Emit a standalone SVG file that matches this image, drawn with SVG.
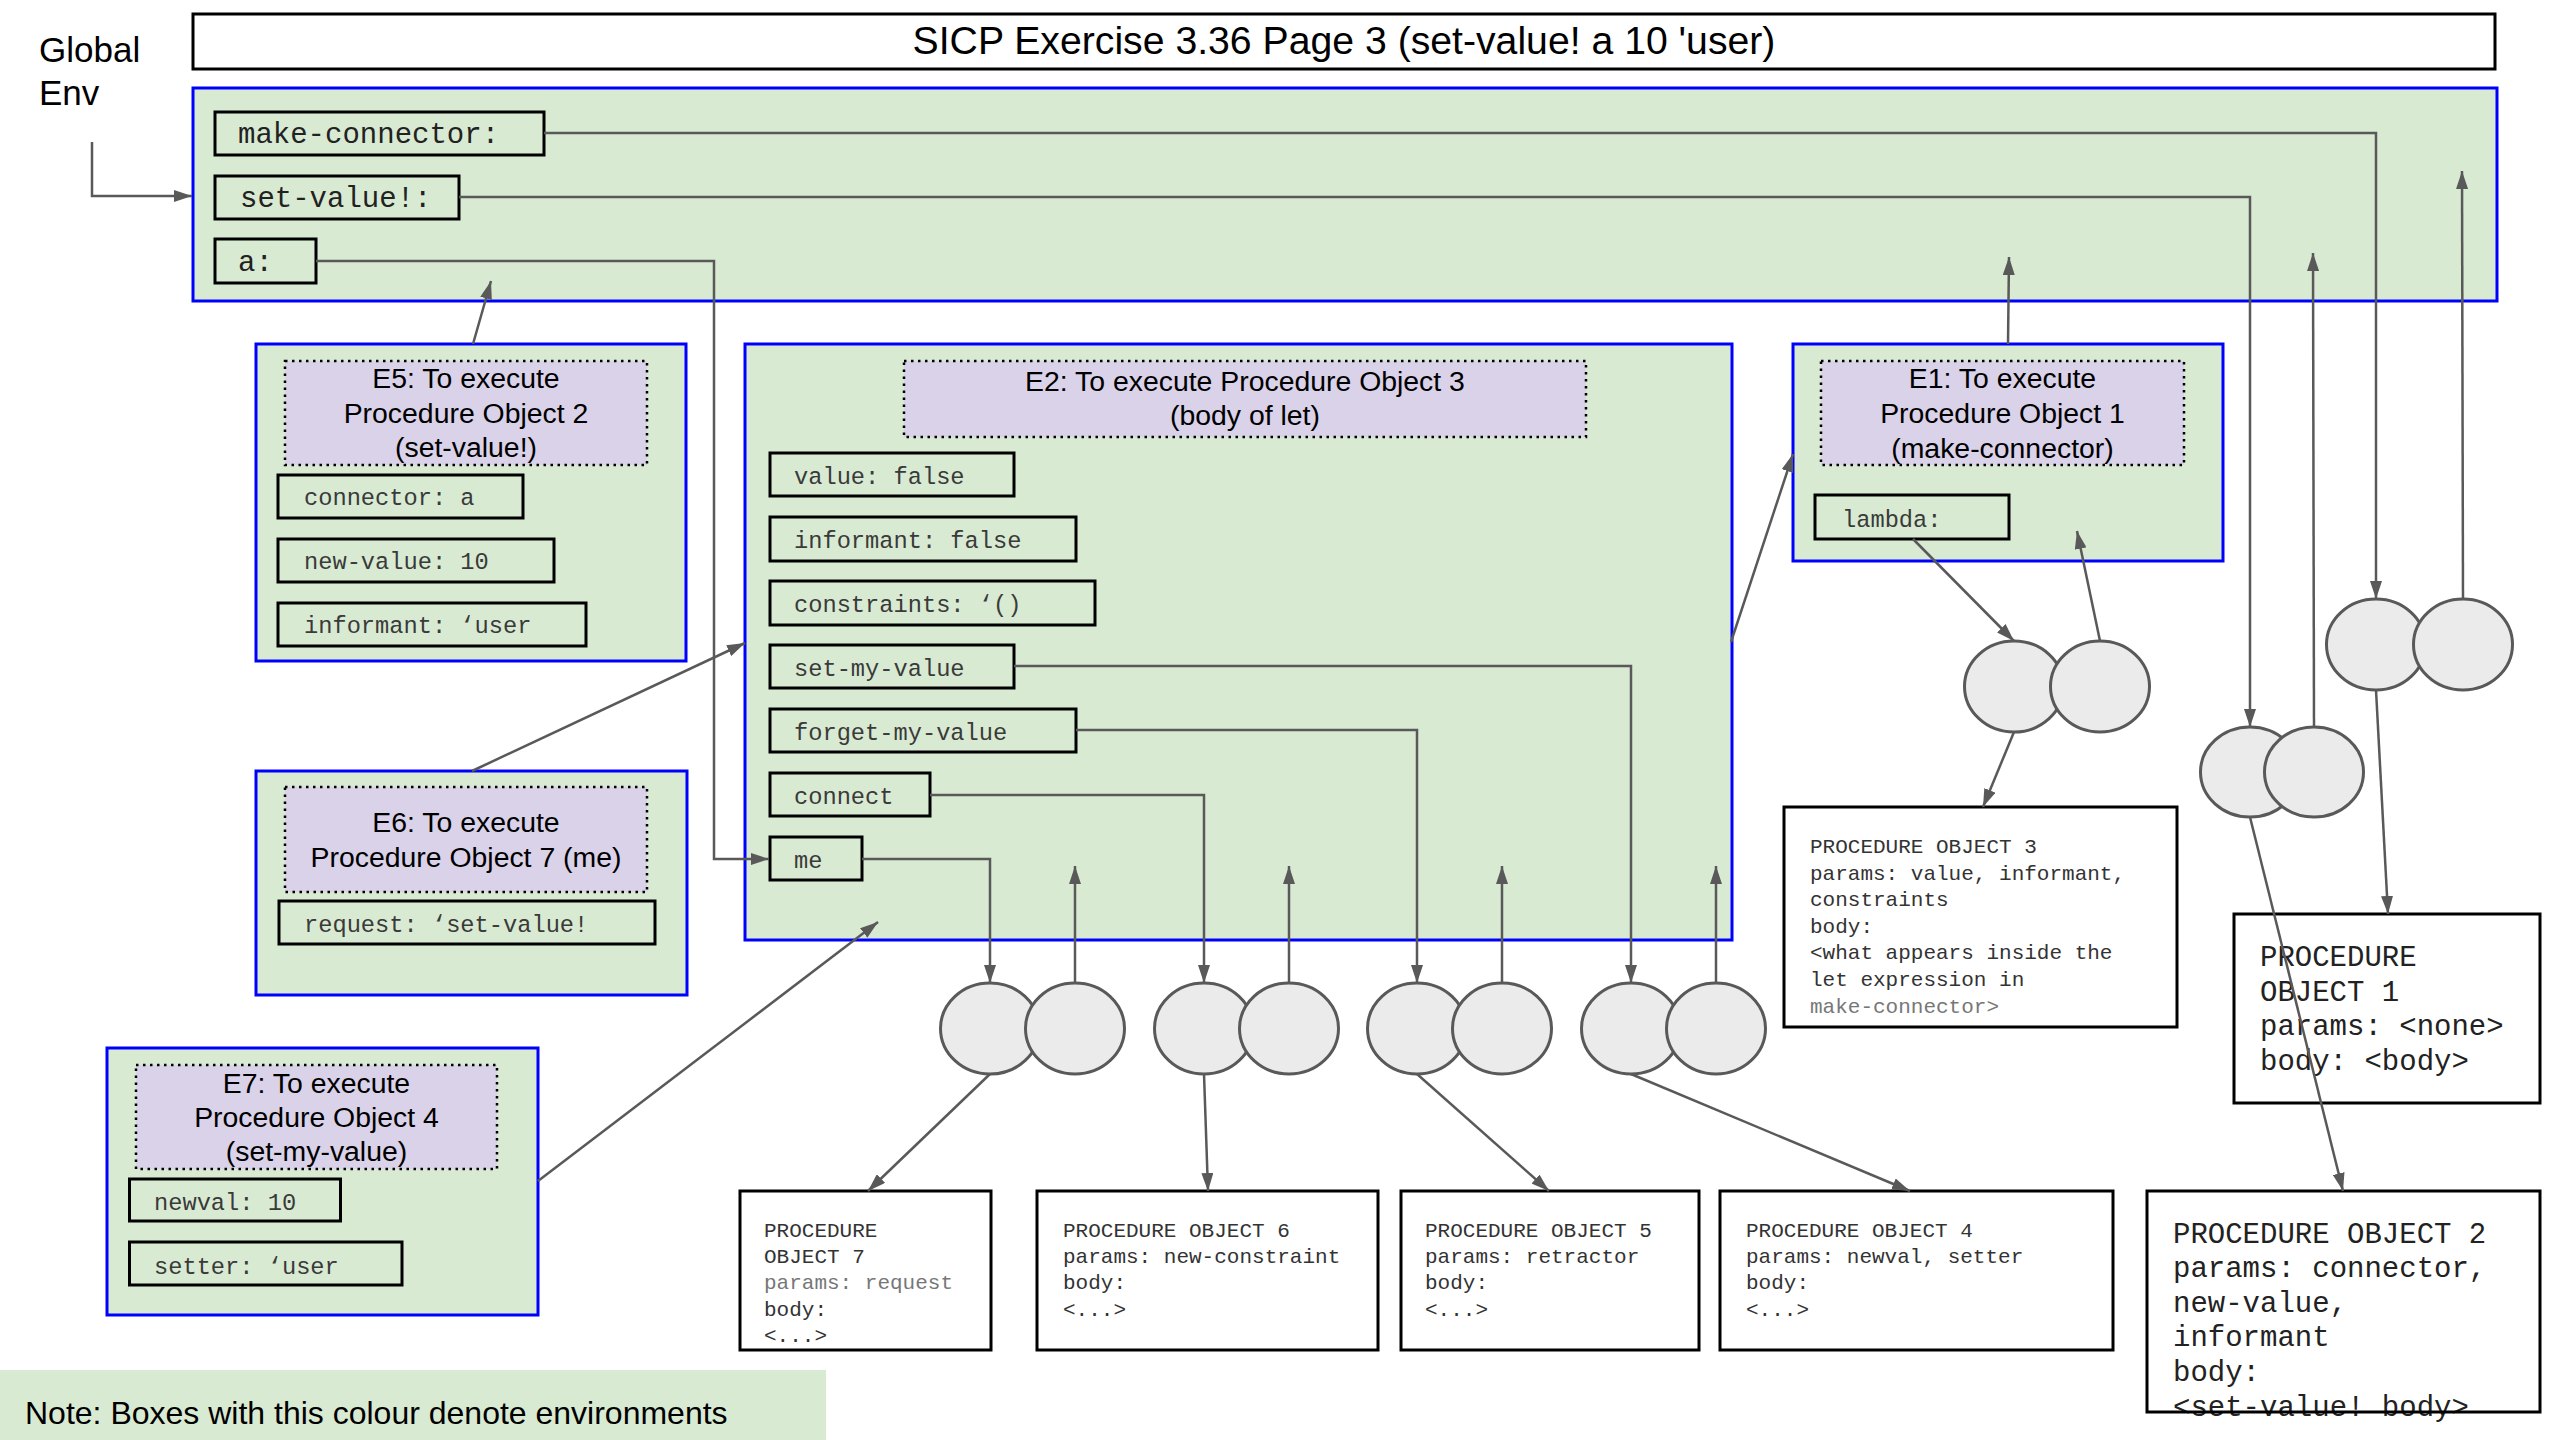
<svg xmlns="http://www.w3.org/2000/svg" width="2560" height="1440" viewBox="0 0 2560 1440">
<defs>
<marker id="ah" viewBox="0 0 18 12" refX="18" refY="6" markerWidth="18" markerHeight="12" markerUnits="userSpaceOnUse" orient="auto">
<path d="M0,0 L18,6 L0,12 z" fill="#595959"/>
</marker>
<style>
.env{fill:#d9ead3;stroke:#0000ff;stroke-width:3}
.lbl{fill:#d9d2e9;stroke:#000;stroke-width:2.5;stroke-dasharray:2.5 4.5}
.bind{fill:none;stroke:#000;stroke-width:3}
.po{fill:#fff;stroke:#000;stroke-width:3}
.cell{fill:#ebebeb;stroke:#595959;stroke-width:3}
.ln{fill:none;stroke:#595959;stroke-width:2.5}
.arr{marker-end:url(#ah)}
.sans{font-family:"Liberation Sans",Arial,sans-serif;fill:#000}
.mono{font-family:"Liberation Mono","Courier New",monospace}
.t28{font-size:28.4px;text-anchor:middle}
.m29{font-size:29px;fill:#222}
.m24{font-size:23.7px;fill:#3a3a3a}
.m21{font-size:21px;fill:#333}
.grey{fill:#777}
</style>
</defs>
<rect width="2560" height="1440" fill="#fff"/>

<g id="title">
<rect x="193" y="14" width="2302" height="55" fill="#fff" stroke="#000" stroke-width="3"/>
<text class="sans" x="1344" y="54" font-size="39.2" text-anchor="middle">SICP Exercise 3.36 Page 3 (set-value! a 10 'user)</text>
</g>

<g id="global-env-label">
<text class="sans" x="39" y="62" font-size="35">Global</text>
<text class="sans" x="39" y="105" font-size="35">Env</text>
</g>

<g id="note">
<rect x="0" y="1370" width="826" height="70" fill="#d9ead3"/>
<text class="sans" x="25" y="1424" font-size="32">Note: Boxes with this colour denote environments</text>
</g>

<g id="global-env">
<rect class="env" x="193" y="88" width="2304" height="213"/>
<rect class="bind" x="215" y="112" width="329" height="43"/>
<text class="mono m29" x="238" y="143">make-connector:</text>
<rect class="bind" x="215" y="176" width="244" height="43"/>
<text class="mono m29" x="240" y="207">set-value!:</text>
<rect class="bind" x="215" y="239" width="101" height="44"/>
<text class="mono m29" x="238" y="271">a:</text>
</g>

<g id="E5">
<rect class="env" x="256" y="344" width="430" height="317"/>
<rect class="lbl" x="285" y="361" width="362" height="104"/>
<text class="sans t28" x="466" y="388">E5: To execute</text>
<text class="sans t28" x="466" y="422.5">Procedure Object 2</text>
<text class="sans t28" x="466" y="457">(set-value!)</text>
<rect class="bind" x="278" y="475" width="245" height="43"/>
<text class="mono m24" x="304" y="505">connector: a</text>
<rect class="bind" x="278" y="539" width="276" height="43"/>
<text class="mono m24" x="304" y="569">new-value: 10</text>
<rect class="bind" x="278" y="603" width="308" height="43"/>
<text class="mono m24" x="304" y="633">informant: ‘user</text>
</g>

<g id="E6">
<rect class="env" x="256" y="771" width="431" height="224"/>
<rect class="lbl" x="285" y="787" width="362" height="105"/>
<text class="sans t28" x="466" y="831.5">E6: To execute</text>
<text class="sans t28" x="466" y="867">Procedure Object 7 (me)</text>
<rect class="bind" x="279" y="901" width="376" height="43"/>
<text class="mono m24" x="304" y="932">request: ‘set-value!</text>
</g>

<g id="E7">
<rect class="env" x="107" y="1048" width="431" height="267"/>
<rect class="lbl" x="136" y="1065" width="361" height="104"/>
<text class="sans t28" x="316.5" y="1093">E7: To execute</text>
<text class="sans t28" x="316.5" y="1127">Procedure Object 4</text>
<text class="sans t28" x="316.5" y="1160.5">(set-my-value)</text>
<rect class="bind" x="129.5" y="1179" width="211" height="42"/>
<text class="mono m24" x="154" y="1210">newval: 10</text>
<rect class="bind" x="129.5" y="1242" width="272.5" height="43"/>
<text class="mono m24" x="154" y="1273.5">setter: ‘user</text>
</g>

<g id="E2">
<rect class="env" x="745" y="344" width="987" height="596"/>
<rect class="lbl" x="904" y="361" width="682" height="76"/>
<text class="sans t28" x="1245" y="391">E2: To execute Procedure Object 3</text>
<text class="sans t28" x="1245" y="425">(body of let)</text>
<rect class="bind" x="770" y="453" width="244" height="43"/>
<text class="mono m24" x="794" y="484">value: false</text>
<rect class="bind" x="770" y="517" width="306" height="44"/>
<text class="mono m24" x="794" y="548">informant: false</text>
<rect class="bind" x="770" y="581" width="325" height="44"/>
<text class="mono m24" x="794" y="612">constraints: ‘()</text>
<rect class="bind" x="770" y="645" width="244" height="43"/>
<text class="mono m24" x="794" y="676">set-my-value</text>
<rect class="bind" x="770" y="709" width="306" height="43"/>
<text class="mono m24" x="794" y="740">forget-my-value</text>
<rect class="bind" x="770" y="773" width="160" height="43"/>
<text class="mono m24" x="794" y="804">connect</text>
<rect class="bind" x="770" y="837" width="92" height="43"/>
<text class="mono m24" x="794" y="868">me</text>
</g>

<g id="E1">
<rect class="env" x="1793" y="344" width="430" height="217"/>
<rect class="lbl" x="1821" y="361" width="363" height="104"/>
<text class="sans t28" x="2002.5" y="388">E1: To execute</text>
<text class="sans t28" x="2002.5" y="423">Procedure Object 1</text>
<text class="sans t28" x="2002.5" y="458">(make-connector)</text>
<rect class="bind" x="1815" y="495" width="194" height="44"/>
<text class="mono m24" x="1842" y="527">lambda:</text>
</g>

<g id="PO3">
<rect class="po" x="1784" y="807" width="393" height="220"/>
<text class="mono m21" x="1810" y="853">PROCEDURE OBJECT 3</text>
<text class="mono m21" x="1810" y="879.6">params: value, informant,</text>
<text class="mono m21" x="1810" y="906.2">constraints</text>
<text class="mono m21" x="1810" y="932.8">body:</text>
<text class="mono m21" x="1810" y="959.4">&lt;what appears inside the</text>
<text class="mono m21" x="1810" y="986">let expression in</text>
<text class="mono m21 grey" x="1810" y="1012.6">make-connector&gt;</text>
</g>

<g id="PO1">
<rect class="po" x="2234" y="914" width="306" height="189"/>
<text class="mono m29" x="2260" y="966">PROCEDURE</text>
<text class="mono m29" x="2260" y="1000.5">OBJECT 1</text>
<text class="mono m29" x="2260" y="1035">params: &lt;none&gt;</text>
<text class="mono m29" x="2260" y="1069.5">body: &lt;body&gt;</text>
</g>

<g id="PO7">
<rect class="po" x="740" y="1191" width="251" height="159"/>
<text class="mono m21" x="764" y="1237">PROCEDURE</text>
<text class="mono m21" x="764" y="1263">OBJECT 7</text>
<text class="mono m21 grey" x="764" y="1289">params: request</text>
<text class="mono m21" x="764" y="1316">body:</text>
<text class="mono m21" x="764" y="1342">&lt;...&gt;</text>
</g>

<g id="PO6">
<rect class="po" x="1037" y="1191" width="341" height="159"/>
<text class="mono m21" x="1063" y="1237">PROCEDURE OBJECT 6</text>
<text class="mono m21" x="1063" y="1263">params: new-constraint</text>
<text class="mono m21" x="1063" y="1289">body:</text>
<text class="mono m21" x="1063" y="1316">&lt;...&gt;</text>
</g>

<g id="PO5">
<rect class="po" x="1401" y="1191" width="298" height="159"/>
<text class="mono m21" x="1425" y="1237">PROCEDURE OBJECT 5</text>
<text class="mono m21" x="1425" y="1263">params: retractor</text>
<text class="mono m21" x="1425" y="1289">body:</text>
<text class="mono m21" x="1425" y="1316">&lt;...&gt;</text>
</g>

<g id="PO4">
<rect class="po" x="1720" y="1191" width="393" height="159"/>
<text class="mono m21" x="1746" y="1237">PROCEDURE OBJECT 4</text>
<text class="mono m21" x="1746" y="1263">params: newval, setter</text>
<text class="mono m21" x="1746" y="1289">body:</text>
<text class="mono m21" x="1746" y="1316">&lt;...&gt;</text>
</g>

<g id="PO2">
<text class="mono m29" x="2173" y="1242.5">PROCEDURE OBJECT 2</text>
<text class="mono m29" x="2173" y="1277">params: connector,</text>
<text class="mono m29" x="2173" y="1311.5">new-value,</text>
<text class="mono m29" x="2173" y="1346">informant</text>
<text class="mono m29" x="2173" y="1380.5">body:</text>
<text class="mono m29" x="2173" y="1416">&lt;set-value! body&gt;</text>
<rect x="2147" y="1191" width="393" height="221" fill="none" stroke="#000" stroke-width="3"/>
</g>

<g id="connectors">
<path class="ln arr" d="M92,142 V196 H192"/>
<path class="ln arr" d="M544,133 H2376 V599"/>
<path class="ln arr" d="M459,197 H2250 V727"/>
<path class="ln arr" d="M316,261 H714 V859 H769"/>
<path class="ln arr" d="M473,344 L491,281"/>
<path class="ln arr" d="M472,771 L745,643"/>
<path class="ln arr" d="M538,1181 L878,922"/>
<path class="ln arr" d="M1731,642 L1793,454"/>
<path class="ln arr" d="M2008,344 L2009,257"/>
<path class="ln arr" d="M862,859 H990 V983"/>
<path class="ln arr" d="M930,795 H1204 V983"/>
<path class="ln arr" d="M1076,730 H1417 V983"/>
<path class="ln arr" d="M1014,666 H1631 V983"/>
<path class="ln arr" d="M1075,983 V866"/>
<path class="ln arr" d="M1289,983 V866"/>
<path class="ln arr" d="M1502,983 V866"/>
<path class="ln arr" d="M1716,983 V866"/>
<path class="ln arr" d="M990,1074 L868,1191"/>
<path class="ln arr" d="M1204,1074 L1208,1191"/>
<path class="ln arr" d="M1417,1074 L1549,1191"/>
<path class="ln arr" d="M1631,1074 L1910,1191"/>
<path class="ln arr" d="M1913,539 L2014,641"/>
<path class="ln arr" d="M2100,641 L2077,531"/>
<path class="ln arr" d="M2014,732 L1983,807"/>
<path class="ln arr" d="M2463,599 L2462,171"/>
<path class="ln arr" d="M2314,727 L2313,253"/>
<path class="ln arr" d="M2376,690 L2388,914"/>
<path class="ln arr" d="M2250,817 L2343,1191"/>
</g>

<g id="pair-po7">
<ellipse class="cell" cx="990" cy="1028.5" rx="49.5" ry="45.5"/>
<ellipse class="cell" cx="1075" cy="1028.5" rx="49.5" ry="45.5"/>
</g>
<g id="pair-po6">
<ellipse class="cell" cx="1204" cy="1028.5" rx="49.5" ry="45.5"/>
<ellipse class="cell" cx="1289" cy="1028.5" rx="49.5" ry="45.5"/>
</g>
<g id="pair-po5">
<ellipse class="cell" cx="1417" cy="1028.5" rx="49.5" ry="45.5"/>
<ellipse class="cell" cx="1502" cy="1028.5" rx="49.5" ry="45.5"/>
</g>
<g id="pair-po4">
<ellipse class="cell" cx="1631" cy="1028.5" rx="49.5" ry="45.5"/>
<ellipse class="cell" cx="1716" cy="1028.5" rx="49.5" ry="45.5"/>
</g>
<g id="pair-po3">
<ellipse class="cell" cx="2014" cy="686.5" rx="49.5" ry="45.5"/>
<ellipse class="cell" cx="2100" cy="686.5" rx="49.5" ry="45.5"/>
</g>
<g id="pair-po1">
<ellipse class="cell" cx="2376" cy="644.5" rx="49.5" ry="45.5"/>
<ellipse class="cell" cx="2463" cy="644.5" rx="49.5" ry="45.5"/>
</g>
<g id="pair-po2">
<ellipse class="cell" cx="2250" cy="772" rx="49.5" ry="45"/>
<ellipse class="cell" cx="2314" cy="772" rx="49.5" ry="45"/>
</g>
</svg>
